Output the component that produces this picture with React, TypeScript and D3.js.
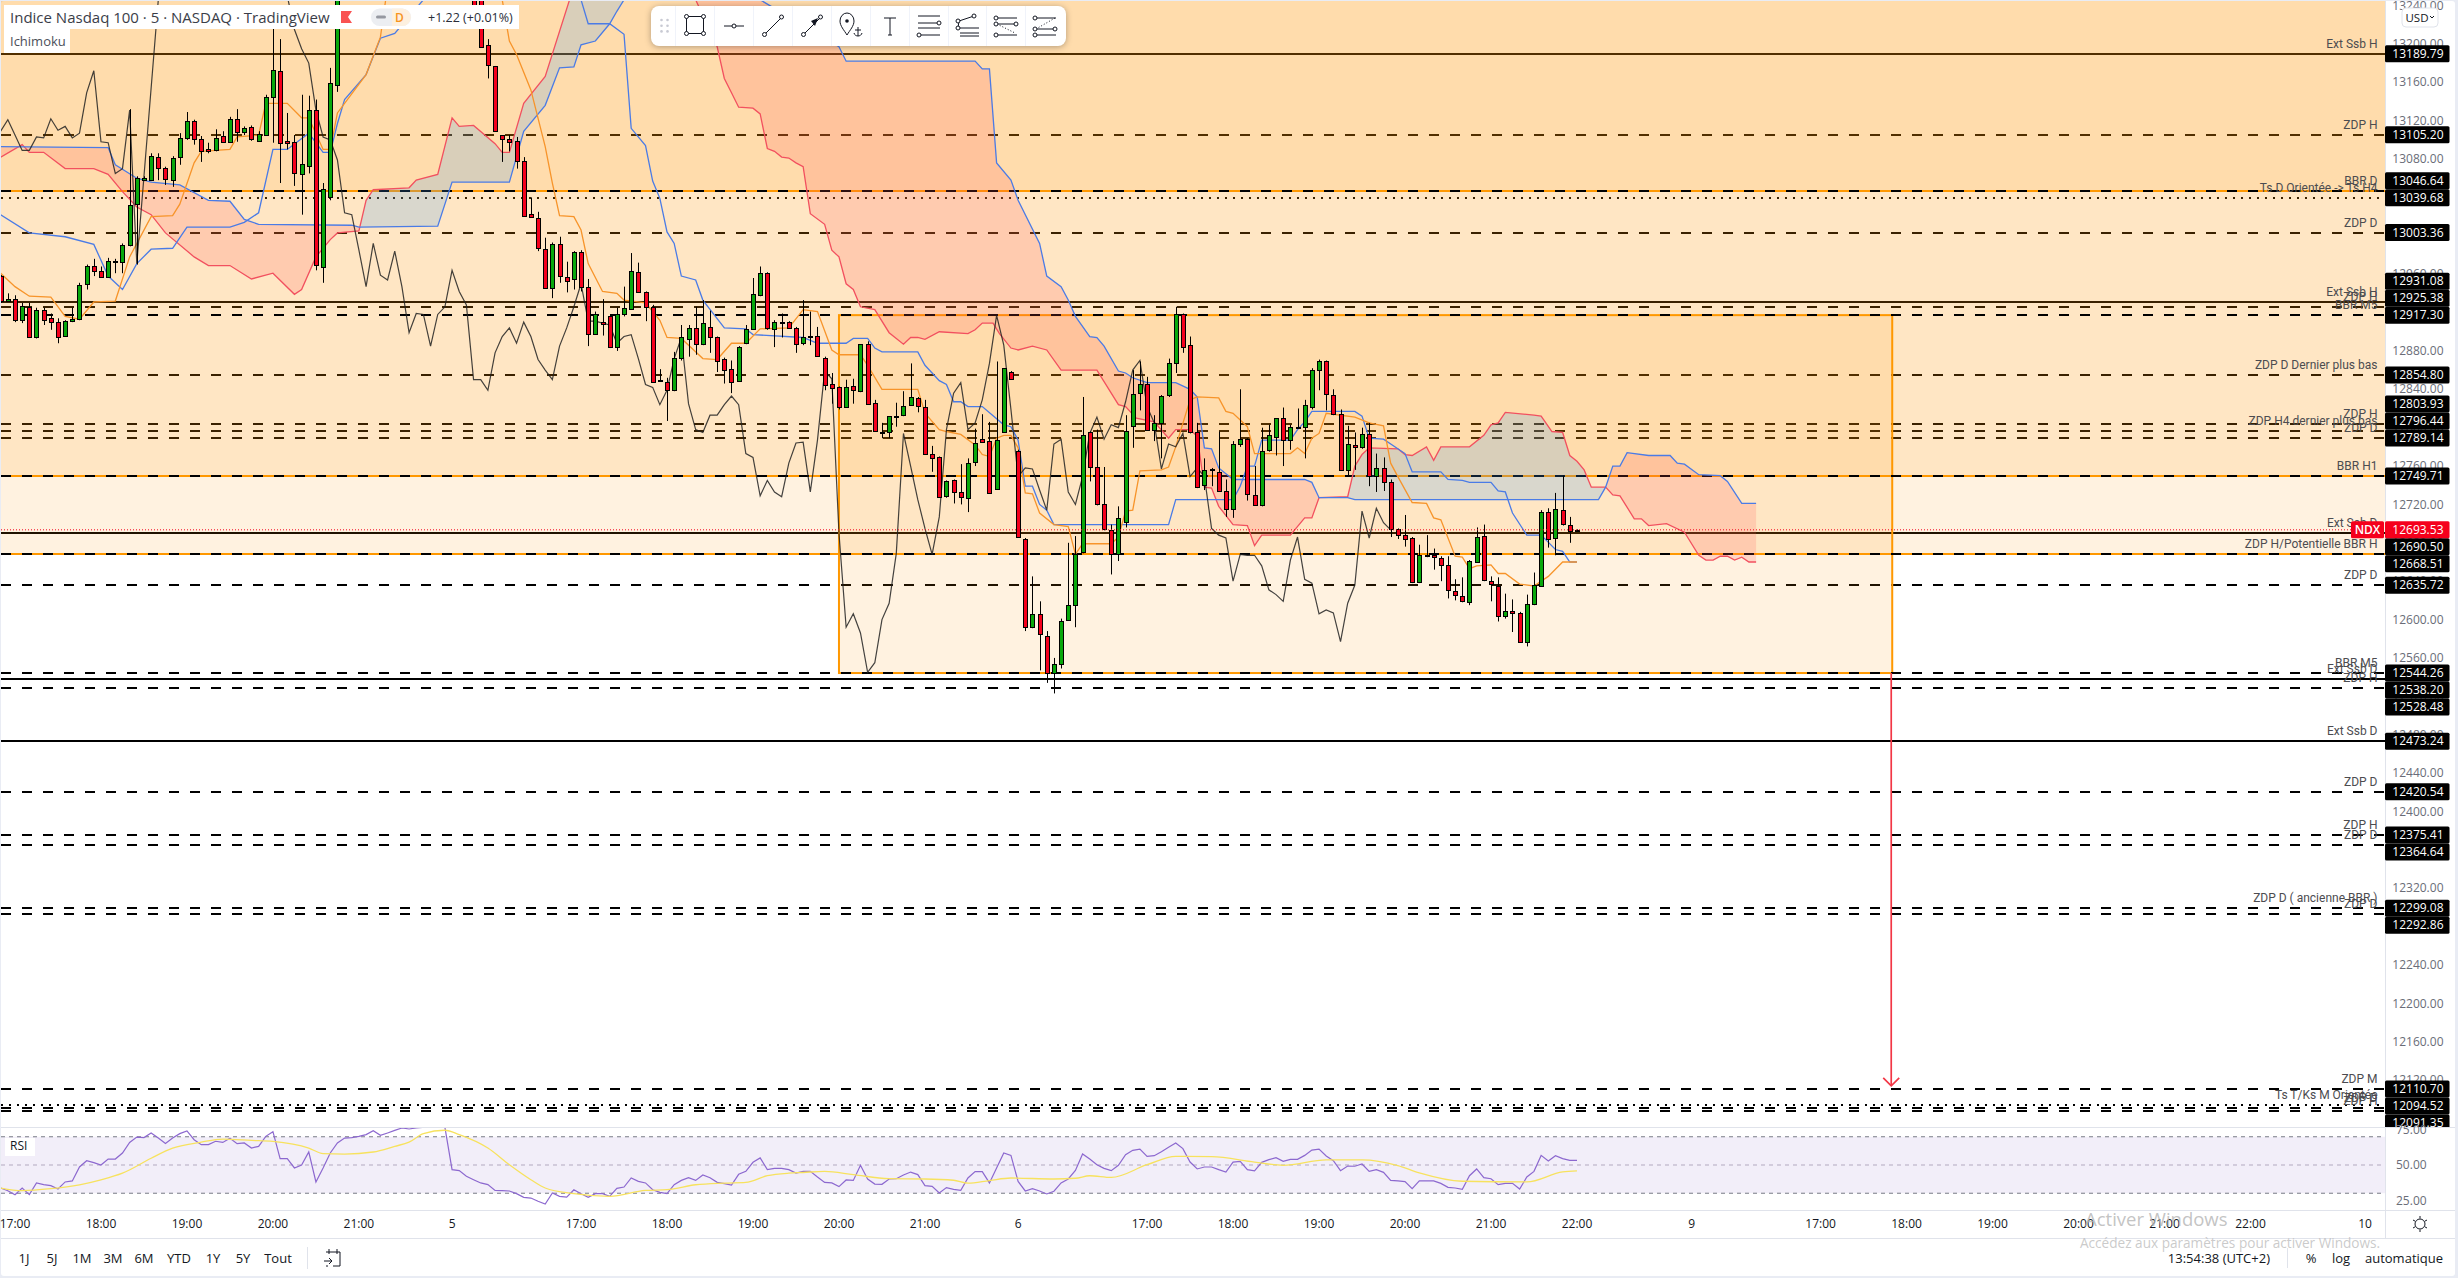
import React from 'react';
import * as d3 from 'd3';

type Bar = [number, number, number, number]; // open, high, low, close
type Vertex = [number, number]; // bar number, value

// candles, one block per trading session. bars 46-63 are above the visible range
const sessionAStart = -2;
const sessionA: Bar[] = [
  [12958,12959,12930,12932],[12932,12940,12931,12934],[12934,12938,12910,12912],[12912,12930,12909,12927],
  [12926,12930,12894,12895],[12894,12925,12893,12923],[12923,12925,12907,12912],[12914,12919,12902,12910],
  [12910,12914,12888,12895],[12896,12912,12895,12911],[12911,12925,12910,12913],[12913,12951,12912,12949],
  [12950,12970,12944,12969],[12969,12976,12958,12963],[12963,12968,12956,12957],[12957,12977,12956,12974],
  [12973,12976,12961,12974],[12973,12992,12961,12990],[12990,13132,12989,13032],[13033,13062,12970,13060],
  [13058,13062,13057,13060],[13058,13086,13057,13083],[13082,13086,13058,13071],[13071,13072,13053,13059],
  [13058,13083,13051,13081],[13082,13107,13074,13102],[13102,13129,13100,13120],[13120,13121,13095,13101],
  [13101,13104,13077,13088],[13090,13097,13086,13088],[13089,13111,13088,13102],[13104,13109,13097,13098],
  [13098,13124,13097,13122],[13122,13132,13098,13108],[13108,13114,13105,13112],[13113,13115,13099,13101],
  [13099,13109,13098,13106],[13105,13147,13104,13145],[13145,13216,13097,13173],[13172,13205,13055,13097],
  [13099,13128,13090,13097],[13098,13105,13052,13065],[13064,13147,13022,13075],[13073,13146,13065,13131],
  [13131,13142,12964,12970],[12967,13055,12951,13049],[13040,13175,13037,13159],[13157,13290,13150,13280],
];
const sessionBStart = 64;
const sessionB: Bar[] = [
  [13290,13300,13240,13241],[13260,13270,13197,13197],[13199,13205,13164,13178],[13177,13177,13109,13109],
  [13105,13105,13077,13101],[13101,13105,13088,13098],[13099,13103,13070,13078],[13078,13082,13021,13021],
  [13023,13040,13020,13020],[13019,13025,12984,12987],[12986,12998,12946,12946],[12946,12993,12935,12991],
  [12991,12999,12951,12958],[12957,12973,12941,12953],[12955,12984,12944,12983],[12983,12985,12942,12947],
  [12947,12955,12885,12898],[12898,12921,12897,12918],[12910,12934,12896,12908],[12916,12918,12883,12884],
  [12884,12925,12880,12918],[12918,12947,12916,12925],[12924,12982,12923,12963],[12962,12972,12941,12941],
  [12941,12942,12911,12926],[12926,12928,12848,12848],[12850,12861,12849,12850],[12848,12852,12807,12839],
  [12839,12879,12838,12873],[12873,12907,12870,12894],[12892,12907,12874,12904],[12904,12926,12876,12887],
  [12887,12933,12886,12909],[12905,12922,12878,12894],[12894,12895,12858,12870],[12872,12873,12846,12860],
  [12861,12870,12836,12848],[12849,12885,12848,12884],[12888,12907,12887,12903],[12903,12956,12902,12939],
  [12938,12968,12937,12961],[12961,12962,12902,12904],[12903,12912,12884,12910],[12910,12919,12894,12909],
  [12910,12911,12903,12904],[12904,12905,12878,12887],[12888,12933,12886,12894],[12894,12921,12886,12896],
  [12896,12905,12874,12875],[12873,12874,12839,12844],[12845,12857,12825,12841],[12842,12843,12819,12822],
  [12822,12850,12821,12842],[12843,12851,12825,12839],[12838,12887,12837,12887],[12887,12890,12824,12825],
  [12826,12829,12797,12797],[12796,12805,12789,12796],[12795,12812,12789,12812],[12811,12826,12801,12812],
  [12813,12838,12812,12823],[12824,12867,12823,12832],[12831,12832,12816,12823],[12822,12829,12773,12773],
  [12773,12781,12754,12768],[12769,12770,12728,12728],[12729,12745,12727,12744],[12745,12746,12721,12733],
  [12733,12762,12720,12728],[12727,12768,12712,12763],[12764,12799,12760,12784],[12788,12814,12784,12785],
  [12786,12806,12731,12732],[12736,12869,12736,12787],[12796,12862,12795,12862],[12858,12859,12850,12851],
];
const sessionCStart = 140;
const sessionC: Bar[] = [
  [12776,12777,12685,12686],[12684,12685,12588,12592],[12592,12645,12591,12606],[12606,12619,12547,12585],
  [12583,12588,12534,12544],[12544,12560,12523,12554],[12554,12601,12549,12599],[12600,12680,12600,12615],
  [12615,12687,12592,12668],[12670,12832,12669,12792],[12795,12796,12744,12759],[12759,12798,12719,12720],
  [12720,12759,12693,12694],[12693,12699,12647,12668],[12668,12718,12661,12706],[12702,12813,12696,12797],
  [12802,12860,12779,12835],[12836,12869,12818,12846],[12845,12853,12797,12798],[12798,12813,12786,12805],
  [12805,12834,12768,12833],[12834,12872,12832,12867],[12867,12926,12857,12918],[12918,12919,12878,12884],
  [12886,12895,12794,12795],[12796,12805,12737,12738],[12740,12768,12735,12756],[12756,12758,12739,12757],
  [12754,12796,12733,12734],[12734,12746,12707,12715],[12715,12786,12706,12783],[12783,12840,12780,12788],
  [12788,12789,12724,12731],[12730,12760,12719,12719],[12719,12800,12718,12776],[12777,12803,12775,12792],
  [12790,12810,12771,12810],[12810,12821,12760,12787],[12787,12803,12777,12801],[12801,12820,12799,12800],
  [12801,12829,12768,12824],[12822,12862,12819,12860],[12860,12871,12839,12869],[12869,12870,12818,12835],
  [12834,12840,12813,12814],[12814,12819,12756,12756],[12756,12802,12750,12783],[12782,12795,12756,12780],
  [12780,12800,12778,12793],[12793,12805,12739,12750],[12750,12773,12733,12758],[12758,12769,12734,12743],
  [12743,12746,12686,12694],[12694,12695,12684,12688],[12688,12709,12676,12684],[12685,12686,12638,12639],
  [12639,12678,12638,12667],[12667,12688,12665,12666],[12667,12674,12652,12665],[12664,12666,12640,12657],
  [12657,12666,12622,12631],[12630,12642,12620,12626],[12625,12644,12618,12619],[12618,12662,12615,12661],
  [12660,12696,12659,12686],[12687,12699,12640,12641],[12640,12645,12619,12637],[12635,12644,12598,12604],
  [12604,12627,12601,12609],[12609,12621,12587,12607],[12607,12608,12576,12577],[12577,12626,12572,12616],
  [12616,12649,12615,12636],[12635,12714,12634,12712],[12712,12716,12675,12684],[12685,12732,12667,12715],
  [12714,12750,12698,12700],[12699,12707,12680,12692],[12692,12694,12692,12693.53],
];

// ichimoku
const senkouA: Vertex[] = [
  [-2,13082],[1,13095],[2,13087],[4,13087],[7,13070],[11,13070],[13,13064],[15,13046],[17,13030],[19,13022],[21,13003],[25,12978],
  [27,12969],[30,12969],[33,12955],[36,12961],[39,12939],[40,12944],[42,12978],[44,12996],[45,13003],[48,13005],[49,13037],[50,13048],
  [55,13050],[56,13058],[59,13064],[61,13123],[62,13114],[64,13115],[67,13096],[68,13087],[69,13087],[71,13138],[74,13166],[77.4,13246],
  [78,13260],[90,13320],[95,13246],[98,13197],[99,13164],[100,13149],[101,13134],[103,13133],[104,13127],[105,13091],[106,13088],
  [107,13082],[108,13081],[109,13076],[110,13072],[111,13023],[113,13012],[114,12985],[115,12978],[116,12950],[117,12944],[118,12926],
  [120,12923],[122,12899],[124,12887],[125,12894],[126,12894],[127,12892],[129,12900],[133,12898],[134,12902],[135,12909],[136.5,12909],
  [137.4,12898],[139,12883],[140,12881],[142,12885],[144,12881],[146,12860],[151,12860],[154,12824],[155,12822],[156.5,12810],[159,12806],
  [161,12789],[162,12798],[164,12798],[165,12791],[166,12738],[167,12737],[168,12718],[170,12699],[172,12698],[173,12677],[174,12688],
  [178,12688],[180,12706],[181,12706],[182,12727],[186,12728],[187,12760],[188,12772],[189,12779],[193,12778],[194,12772],[195,12771],
  [197,12780],[198,12766],[199,12780],[203,12780],[205,12792],[206,12803],[207,12805],[208,12816],[212,12813],[213,12812],[214.5,12796],
  [216,12795],[217,12771],[218,12765],[219,12756],[220,12738],[222,12738],[223,12730],[224,12729],[226,12705],[227,12705],[228,12698],
  [230.5,12700],[233,12691],[235,12667],[236,12662],[237,12662],[238,12666],[239,12666],[240,12662],[241,12665],[242,12660],[243,12660],
];
const senkouB: Vertex[] = [
  [-2,13093],[13,13092],[14,13074],[17,13060],[19,13056],[23,13053],[27,13037],[30,13036],[32,13017],[34,13012],[47,13011],[48,13009],
  [59,13010],[61,13056],[69,13056],[71,13109],[74,13136],[76,13175],[78,13176],[79,13199],[81,13203],[83,13221],[84,13234],[85,13246],
  [88,13300],[100,13330],[104,13246],[115,13197],[116,13182],[134,13182],[135,13174],[136,13174],[137,13076],[139,13058],[140,13037],
  [143,12992],[144,12958],[146,12947],[147,12933],[148,12916],[150,12895],[151,12894],[152,12885],[154,12859],[155,12857],[156,12852],
  [158,12847],[162,12847],[164,12840],[165,12832],[166,12779],[167,12778],[168,12758],[170,12746],[180,12746],[181,12743],[182,12727],
  [186,12727],[187,12725],[221,12725],[222,12738],[223,12760],[224,12760],[225,12774],[228,12771],[231,12771],[232,12763],[233,12762],
  [235,12751],[238,12750],[239,12744],[241,12721],[243,12721],
];
const kijunLeft: Vertex[] = [
  [-2,13022],[2,13003],[7,12999],[11,12991],[13,12958],[15,12944],[17,12971],[19,12986],[22,12987],[24,13009],[30,13009],[32,13014],
  [34,13024],[36,13090],[38,13090],[41,13107],[43,13087],[44,13087],[45,13117],[46,13142],[49,13168],[51,13206],[53,13211],[57,13246],[58,13260],
];
const kijunRight: Vertex[] = [
  [78,13260],[79,13246],[80,13221],[83,13221],[85,13210],[86,13112],[88,13094],[89,13057],[90,13039],[91,13004],[92,12992],[93,12958],
  [95,12954],[96,12933],[99,12904],[102,12903],[103,12897],[110,12894],[112,12888],[116,12888],[117,12893],[119,12893],[120,12883],
  [121,12879],[126,12879],[127,12865],[129,12849],[130,12845],[131,12827],[132,12827],[133,12822],[135,12822],[138,12803],[139,12801],
  [140,12787],[141,12739],[142,12739],[143,12720],[144,12714],[145,12699],[161,12699],[162,12725],[170,12725],[171,12739],[172,12760],
  [173,12760],[174,12787],[178,12787],[179,12798],[180,12806],[181,12817],[187,12817],[188,12812],[189,12789],[191,12788],[194,12773],
  [195,12754],[199,12754],[200,12746],[202,12745],[203,12743],[206,12743],[207,12734],[208,12733],[209,12711],[211,12688],[213,12688],
  [215,12673],[216,12671],[217,12660],[218,12660],
];
const tenkanLeft: Vertex[] = [
  [-2,12961],[0,12947],[2,12937],[5,12936],[7,12916],[9,12913],[11,12931],[14,12932],[16,12978],[19,13020],[22,13021],[23,13033],
  [25,13076],[26,13088],[30,13090],[31,13103],[34,13105],[35,13138],[38,13138],[40,13123],[41,13123],[43,13090],[44,13090],[45,13128],
  [49,13168],[51,13207],[52,13260],
];
const tenkanRight: Vertex[] = [
  [67.5,13260],[68,13246],[69,13203],[70,13189],[72,13152],[74,13093],[75,13055],[76,13021],[78,13020],[79,13006],[80,12971],[82,12942],
  [84,12940],[85,12933],[88,12930],[90,12912],[91,12894],[93,12893],[96,12872],[98,12871],[100,12888],[102,12888],[104,12903],[108,12904],
  [110,12923],[112,12921],[114,12881],[115,12876],[118,12876],[119,12865],[121,12840],[126,12840],[127,12815],[129,12798],[130,12796],
  [132,12793],[134,12782],[135,12772],[136,12770],[137,12789],[138,12792],[139,12792],[140,12779],[141,12732],[142,12731],[143,12711],
  [145,12699],[147,12697],[148,12668],[149,12679],[153,12679],[154,12686],[155,12713],[156,12714],[157,12755],[160,12756],[161,12759],
  [162,12780],[164,12829],[165,12832],[168,12831],[169,12817],[170,12815],[172,12801],[173,12773],[178,12773],[179,12779],[180,12773],
  [181,12789],[182,12794],[183,12815],[187,12811],[189,12805],[191,12802],[192,12763],[193,12749],[195,12722],[197,12721],[198,12706],
  [199,12704],[201,12666],[202,12665],[203,12653],[204,12656],[206,12657],[207,12648],[208,12648],[210,12637],[212,12635],[214,12645],
  [216,12660],[218,12660],
];
const chikouLeftStart = -2;
const chikouLeft = [
  13109,13121,13105,13089,13089,13103,13102,13122,13110,13114,13102,13107,13149,13172,13098,13097,13065,13070,13131,12971,13062,13154,13246,13338,
];
const chikouRightStart = 38;
const chikouRight = [
  13250,13215,13195,13180,13131,13103,13100,13079,13024,13022,12985,12947,12992,12959,12954,12984,12947,12899,12919,12918,12885,12918,12926,
  12964,12942,12928,12850,12850,12839,12878,12895,12904,12888,12910,12895,12871,12860,12850,12885,12904,12926,12950,12911,12911,12909,12907,
  12888,12895,12897,12872,12845,12842,12824,12839,12872,12894,12825,12798,12795,12813,12813,12824,12833,12824,12773,12769,12729,12745,12733,
  12728,12763,12784,12785,12733,12787,12859,12851,12690,12592,12606,12586,12545,12555,12600,12617,12669,12794,12760,12725,12695,12668,12707,
  12798,12836,12847,12798,12805,12829,12867,12917,12886,12819,12749,12758,12757,12735,12714,12783,12788,12733,12720,12749,12794,12811,12788,
  12803,12800,12827,12860,12870,12822,12805,12757,12783,12780,12794,12749,12758,12749,12695,12688,12685,12640,12668,12667,12667,12656,12631,
  12626,12619,12662,12686,12642,12638,12606,12610,12607,12577,12617,12636,12713,12685,12716,12701,12693.5,
];

// rsi
const rsiStart = -2;
const rsiValues = [
  33.7,31.8,29,33.7,29,37.3,36.1,35.4,33,38,38.7,48.6,53,51.7,50,54.2,54.2,58.5,66,69.8,69.4,72.7,69.1,65.3,69.1,72.2,74.1,67.9,64.4,64.4,
  66.8,66,68.9,65.1,65.6,62,63.2,70.3,73.6,54.5,54.5,47.9,50,59.2,38,47.9,58.5,65.6,69.1,69.4,70.3,71.5,74.3,71,72.7,74.5,76.2,75.5,76.2,76.7,
  78.6,79.7,76.7,46.7,46,42,39.6,37.3,36.1,32,31.8,31.6,29.7,27.1,26.6,24.3,22.4,30.2,27.8,27.3,32.5,29.7,27.1,29.7,29.7,27.8,33.5,34.4,40.8,
  38.4,37.3,32.5,30.6,29.7,36.1,39.1,41,39.1,42.9,41,37.7,36.8,35.8,43.4,45.5,51.9,55,46.7,47.6,47.6,46.7,44.3,45.5,45.5,41.5,37.7,37.3,34.7,
  39.4,39.1,49.8,40.1,36.5,36.3,40.1,40.3,42.9,45,43.2,35.4,34.9,30.2,34,32.8,32.1,40.8,45.3,45.3,37.3,47.9,58.5,56.8,38.4,31.6,33.2,31.6,
  29.5,31.4,37.3,40.1,46.2,57.8,54.2,50.2,47.6,46,49.8,57.3,60.4,61.3,56.1,56.6,59.4,62.5,65.6,61.6,52.1,47.2,48.6,48.6,46.7,45,52.1,52.6,
  46.7,45.8,51.9,53.8,55.2,52.6,54,54,56.8,60.6,61.3,56.4,53.1,46,49.3,49.1,50.7,45.5,46.7,44.8,39.1,38.7,38.2,33.2,38.7,38.7,38.7,37,34.2,
  33.7,32.8,42.4,47.2,41,40.3,36.1,37,37,33,41.5,45.5,56.8,52.8,56.6,54.5,53.3,53.3,
];
const rsiMa: Vertex[] = [
  [-2,33.7],[1,31.8],[5,33.2],[9,36],[12,39.5],[15,44.2],[19,54.8],[22,61.9],[26,66.2],[29,68.3],[33,67.4],[36,66.7],[41,62],[43,58],[46,57.7],
  [50,59.2],[53,63.2],[55,66.2],[57,72.2],[60,74.6],[62,71.5],[66,62],[69,50.2],[72,39.6],[74,33.7],[78,29.7],[83,27.8],[88,32],[91,32.5],[95,36],
  [99,37.2],[102,37.7],[105,42.4],[108,44.2],[110,44.7],[113,45.5],[117,43.2],[122,40.3],[127,40.1],[131,39.2],[133,37.1],[136,39],[139,40.8],
  [145,40.1],[148,40.6],[150,42.4],[153,41.2],[158,50.2],[162,56.1],[167,55.9],[173,52.1],[177,49.8],[183,53.6],[188,53.6],[193,49.6],[196,44.4],
  [202,38.5],[211,38],[216,45.1],[218,45.8],
];
const rsiTicks = [75, 50, 25];
const rsiBands = [70, 50, 30];

// horizontal levels
const levelPrices = [
  13189.79,13105.2,13046.64,13039.68,13003.36,12931.08,12925.38,12917.3,12854.8,12803.93,12796.44,12789.14,12749.71,
  12690.5,12668.51,12635.72,12544.26,12538.2,12528.48,12473.24,12420.54,12375.41,12364.64,12299.08,12292.86,12110.7,12094.52,12091.35,12088.2,
];
const levelLabels = [
  'Ext Ssb H','ZDP H','BBR D','Ts D Orientée ->  Ts H4','ZDP D','Ext Ssb H','ZDP H','BBR M5','ZDP D Dernier plus bas','ZDP H','ZDP H4 dernier plus bas','ZDP D','BBR H1',
  'Ext Ssb D','ZDP H/Potentielle BBR H','ZDP D','BBR M5','Ext Ssb D','ZDP H','Ext Ssb D','ZDP D','ZDP H','ZDP D','ZDP D ( ancienne BBR )','ZDP D','ZDP M','Ts T/Ks M Orientée','ZDP D','ZDP H',
];
const solidLevels = [13189.79, 12931.08, 12690.5, 12538.2, 12473.24];
const dottedLevels = [13039.68, 12094.52];
const lastPrice = 12693.53;

const zoneBottoms = [13046.64, 12749.71, 12668.51];
const boxBars = [115, 262];
const boxPrices = [12917.3, 12544.26];
const arrowBar = 262;
const arrowPrices = [12544.26, 12114];

const priceTicks = d3.range(12120, 13241, 40);
const timeTickBars = [0,12,24,36,48,61,79,91,103,115,127,140,158,170,182,194,206,218,234,252,264,276,288,300,312,328];
const timeTickLabels = ['17:00','18:00','19:00','20:00','21:00','5','17:00','18:00','19:00','20:00','21:00','6','17:00','18:00','19:00','20:00','21:00','22:00','9','17:00','18:00','19:00','20:00','21:00','22:00','10'];
const rangeLabels = ['1J','5J','1M','3M','6M','YTD','1Y','5Y','Tout'];
const rangeCenters = [24,52,82,113,144,179,213,243,278];

const W = 2458;
const H = 1278;
const PLOT_R = 2385;
const MAIN_B = 1127;
const RSI_B = 1210;
const AXIS_B = 1238;
const FONT = '"Open Sans", sans-serif';
const UP = '#08a80c';
const DOWN = '#f5001c';
const INK = '#131722';
const BORDER = '#e0e3eb';
const dashed = '10 11';
const dotted = '2 6';

const x = d3.scaleLinear().domain([0, 328]).range([15, 15 + 328 * 7.165]);
const y = d3.scaleLinear().domain([13189.79, 12110.7]).range([53.7, 1089]);
const yRsi = d3.scaleLinear().domain([50, 25]).range([1165, 1200.3]);

const vertexLine = d3.line<Vertex>().x(d => x(d[0])).y(d => y(d[1]));
const seqLine = (values: number[], start: number, scale: d3.ScaleLinear<number, number>) =>
  d3.line<number>().x((_, i) => x(start + i)).y(d => scale(d))(values) ?? '';

// sampled cloud edges, the two spans cross so each colour gets its own area
const lerp = (pts: Vertex[]) => d3.scaleLinear().domain(pts.map(p => p[0])).range(pts.map(p => p[1]));
const lerpA = lerp(senkouA);
const lerpB = lerp(senkouB);
const cloudBars = d3.range(-2, 243.01, 0.125);
const cloudArea = (aboveA: boolean) =>
  d3.area<number>()
    .defined(b => (lerpA(b) >= lerpB(b)) === aboveA)
    .x(b => x(b))
    .y0(b => y(lerpA(b)))
    .y1(b => y(lerpB(b)))(cloudBars) ?? '';

// price tags do not overlap: above the last price they stack up, below it they stack down
const tagH = 17;
const tagYs = (() => {
  const res = new Map<number, number>();
  const above = levelPrices.filter(p => p > lastPrice).sort(d3.ascending);
  const below = levelPrices.filter(p => p < lastPrice).sort(d3.descending);
  let prev = y(lastPrice);
  above.forEach(p => { prev = Math.min(y(p), prev - tagH); res.set(p, prev); });
  prev = y(lastPrice);
  below.forEach(p => { prev = Math.max(y(p), prev + tagH); res.set(p, prev); });
  return res;
})();

const Candles: React.FC<{ bars: Bar[]; start: number }> = ({ bars, start }) => (
  <g>
    {bars.map((b, i) => {
      const [o, h, l, c] = b;
      const cx = Math.round(x(start + i)) + 0.5;
      const top = Math.round(y(Math.max(o, c))) + 0.5;
      const bot = Math.round(y(Math.min(o, c))) + 0.5;
      return (
        <g key={i}>
          <line x1={cx} x2={cx} y1={y(h)} y2={y(l)} stroke="#000" strokeWidth={1} />
          <rect x={cx - 2} width={4} y={top} height={Math.max(bot - top, 1)} fill={c >= o ? UP : DOWN} stroke="#000" strokeWidth={1} />
        </g>
      );
    })}
  </g>
);

const LevelLine: React.FC<{ p: number }> = ({ p }) => (
  <line
    x1={1}
    x2={PLOT_R}
    y1={Math.round(y(p))}
    y2={Math.round(y(p))}
    stroke="#000"
    strokeWidth={2}
    strokeDasharray={solidLevels.includes(p) ? undefined : dottedLevels.includes(p) ? dotted : dashed}
  />
);

const ToolIcons: React.FC = () => {
  const dot = (cx: number, cy: number, k: string) => <circle key={k} cx={cx} cy={cy} r={2} fill="#fff" stroke={INK} strokeWidth={1} />;
  const stroke = { stroke: INK, strokeWidth: 1, fill: 'none' };
  const centers = [695, 734, 773, 812, 851, 890, 929, 968, 1006, 1045];
  return (
    <g>
      <rect x={651} y={6} width={415} height={40} rx={8} fill="#fff" style={{ filter: 'drop-shadow(0 1px 3px rgba(0,0,0,0.3))' }} />
      {[0, 1].flatMap(a => [0, 1, 2].map(b => <circle key={`${a}${b}`} cx={661.5 + a * 6} cy={20 + b * 5.7} r={1.3} fill="#c8cad3" />))}
      {centers.map((c, i) => <line key={i} x1={c - 19.5} x2={c - 19.5} y1={6} y2={46} stroke="#f0f3fa" />)}
      <g transform="translate(695,25)">
        <rect x={-8.5} y={-8.5} width={17} height={17} {...stroke} />
        {dot(-8.5, -8.5, 'a')}{dot(8.5, -8.5, 'b')}{dot(-8.5, 8.5, 'c')}{dot(8.5, 8.5, 'd')}
      </g>
      <g transform="translate(734,26)">
        <line x1={-10} x2={10} y1={0} y2={0} {...stroke} />{dot(0, 0, 'a')}
      </g>
      <g transform="translate(773,26)">
        <line x1={-8.5} x2={8.5} y1={8.5} y2={-8.5} {...stroke} />{dot(-8.5, 8.5, 'a')}{dot(8.5, -9, 'b')}
      </g>
      <g transform="translate(812,26)">
        <line x1={-8.5} x2={8.5} y1={8.5} y2={-8.5} {...stroke} />
        <path d="M6 -8 L-1 -5 L3 0 Z" fill={INK} />
        {dot(-8.5, 8.5, 'a')}{dot(8.5, -9, 'b')}
      </g>
      <g transform="translate(847,25)">
        <path d="M0 10 C-3 5 -7 1 -7 -4 A7 8 0 0 1 7 -4 C7 1 3 5 0 10 Z" {...stroke} />
        <circle cx={0} cy={-4} r={1.8} fill={INK} />
        <path d="M11 2 V11 M8 5 H14 M7 8 C8 12 14 12 15 8" {...stroke} />
      </g>
      <g transform="translate(890,26)">
        <path d="M-6 -8 H6 M0 -8 V9 M-2 9 H2" {...stroke} />
      </g>
      <g transform="translate(929,26)">
        <path d="M-11 -10 H11 M-11 -3 H10 M-11 2 H11 M-8 9 H11" {...stroke} />
        {dot(10, -3, 'a')}{dot(-10, 9, 'b')}
      </g>
      <g transform="translate(968,26)">
        <path d="M-10 2 L-9 -5 L6 -10 M-10 2 H11 M-8 7 H11 M-8 10 H11" {...stroke} />
        {dot(-10, -5, 'a')}{dot(6, -10, 'b')}{dot(-10, 2, 'c')}
      </g>
      <g transform="translate(1006,26)">
        <path d="M-9 -8 H11 M-9 -2 H11 M-9 9 H11" {...stroke} />
        <path d="M-9 -2 L9 7" {...stroke} strokeDasharray="1 2" />
        {dot(-10, -8, 'a')}{dot(-10, -2, 'b')}{dot(10, -2, 'c')}{dot(-10, 9, 'd')}
      </g>
      <g transform="translate(1045,26)">
        <path d="M-9 -8 H11 M-9 3 H11 M-9 9 H11" {...stroke} />
        <path d="M-9 3 L10 -8" {...stroke} strokeDasharray="1 2" />
        {dot(-10, -8, 'a')}{dot(-10, 3, 'b')}{dot(10, 3, 'c')}{dot(-10, 9, 'd')}
      </g>
    </g>
  );
};

const App: React.FC = () => {
  const boundary = [...zoneBottoms, ...boxPrices];
  return (
    <svg width={W} height={H} viewBox={`0 0 ${W} ${H}`} style={{ position: 'absolute', left: 0, top: 0, display: 'block', fontFamily: FONT }}>
      <defs>
        <clipPath id="main"><rect x={1} y={1} width={PLOT_R - 1} height={MAIN_B - 1} /></clipPath>
        <clipPath id="tags"><rect x={1} y={1} width={W - 8} height={MAIN_B - 1} /></clipPath>
        <clipPath id="rsi"><rect x={1} y={MAIN_B + 1} width={PLOT_R - 1} height={RSI_B - MAIN_B - 1} /></clipPath>
      </defs>
      <rect width={W} height={H} fill="#e9ecf4" />
      <rect x={1} y={1} width={W - 4} height={H - 3} rx={3} fill="#fff" />

      <g clipPath="url(#main)">
        {/* the black levels sit under the zones, which is why they look brown up there */}
        {levelPrices.filter(p => !boundary.includes(p)).map(p => <LevelLine key={p} p={p} />)}
        {zoneBottoms.map(p => <rect key={p} x={1} y={0} width={PLOT_R} height={y(p)} fill="#ff9800" fillOpacity={0.12} />)}
        <rect x={x(boxBars[0])} width={x(boxBars[1]) - x(boxBars[0])} y={y(boxPrices[0])} height={y(boxPrices[1]) - y(boxPrices[0])} fill="#ff9800" fillOpacity={0.12} />
        {zoneBottoms.map(p => <line key={p} x1={1} x2={PLOT_R} y1={Math.round(y(p))} y2={Math.round(y(p))} stroke="#ff9800" strokeWidth={2} />)}
        <rect x={x(boxBars[0])} width={x(boxBars[1]) - x(boxBars[0])} y={y(boxPrices[0])} height={y(boxPrices[1]) - y(boxPrices[0])} fill="none" stroke="#ff9800" strokeWidth={2} />
        {boundary.map(p => <LevelLine key={p} p={p} />)}

        <path d={cloudArea(false)} fill="#ff5252" fillOpacity={0.18} />
        <path d={cloudArea(true)} fill="#4299f5" fillOpacity={0.2} />
        <path d={vertexLine(senkouA) ?? ''} fill="none" stroke="#f2505f" strokeWidth={1.3} />
        <path d={vertexLine(senkouB) ?? ''} fill="none" stroke="#4a7be6" strokeWidth={1.3} />
        <path d={vertexLine(kijunLeft) ?? ''} fill="none" stroke="#4a7be6" strokeWidth={1.3} />
        <path d={vertexLine(kijunRight) ?? ''} fill="none" stroke="#4a7be6" strokeWidth={1.3} />
        <path d={vertexLine(tenkanLeft) ?? ''} fill="none" stroke="#f7942a" strokeWidth={1.3} />
        <path d={vertexLine(tenkanRight) ?? ''} fill="none" stroke="#f7942a" strokeWidth={1.3} />
        <path d={seqLine(chikouLeft, chikouLeftStart, y)} fill="none" stroke="#222" strokeOpacity={0.85} strokeWidth={1.2} />
        <path d={seqLine(chikouRight, chikouRightStart, y)} fill="none" stroke="#222" strokeOpacity={0.85} strokeWidth={1.2} />

        <Candles bars={sessionA} start={sessionAStart} />
        <Candles bars={sessionB} start={sessionBStart} />
        <Candles bars={sessionC} start={sessionCStart} />

        <line x1={1} x2={PLOT_R} y1={y(lastPrice)} y2={y(lastPrice)} stroke="#f5001c" strokeWidth={1} strokeDasharray="1 2" />

        <line x1={x(arrowBar) - 1} x2={x(arrowBar) - 1} y1={y(arrowPrices[0])} y2={y(arrowPrices[1])} stroke="#f23645" strokeWidth={1.7} />
        <path d={`M${x(arrowBar) - 9} ${y(arrowPrices[1]) - 8} L${x(arrowBar) - 1} ${y(arrowPrices[1])} L${x(arrowBar) + 7} ${y(arrowPrices[1]) - 8}`} fill="none" stroke="#f23645" strokeWidth={1.7} />

        {levelPrices.map((p, i) => (
          <text key={p} x={2377.5} y={y(p) - 6} textAnchor="end" fontFamily="Roboto, sans-serif" fontSize={12} fill="#4c4c50">{levelLabels[i]}</text>
        ))}
      </g>

      <line x1={PLOT_R + 0.5} x2={PLOT_R + 0.5} y1={1} y2={AXIS_B} stroke={BORDER} />
      {priceTicks.map(t => (
        <text key={t} x={2443.5} y={y(t)} dy="0.35em" textAnchor="end" fontSize={12} fill="#6a6d78">{t.toFixed(2)}</text>
      ))}

      <g clipPath="url(#tags)">
        {levelPrices.map(p => {
          const ty = tagYs.get(p) ?? y(p);
          return (
            <g key={p}>
              <rect x={PLOT_R} y={ty - tagH / 2} width={64.5} height={tagH} rx={1.5} fill="#000" />
              <text x={2443.5} y={ty} dy="0.35em" textAnchor="end" fontSize={12} fill="#fff">{p.toFixed(2)}</text>
            </g>
          );
        })}
        <rect x={2351} y={y(lastPrice) - tagH / 2} width={33} height={tagH} rx={1.5} fill="#f5001c" />
        <text x={2367.5} y={y(lastPrice)} dy="0.35em" textAnchor="middle" fontSize={12} fontWeight={600} fill="#fff">NDX</text>
        <rect x={PLOT_R} y={y(lastPrice) - tagH / 2} width={64.5} height={tagH} rx={1.5} fill="#f5001c" />
        <text x={2443.5} y={y(lastPrice)} dy="0.35em" textAnchor="end" fontSize={12} fill="#fff">{lastPrice.toFixed(2)}</text>
      </g>

      <rect x={2402} y={8} width={36} height={19} rx={4} fill="#fff" stroke={BORDER} />
      <text x={2417} y={17.5} dy="0.35em" textAnchor="middle" fontSize={11.5} fill={INK}>USD</text>
      <path d="M2430 16 l2 2 l2 -2" fill="none" stroke={INK} />

      <line x1={1} x2={W - 3} y1={MAIN_B + 0.5} y2={MAIN_B + 0.5} stroke={BORDER} />
      <g clipPath="url(#rsi)">
        <rect x={1} width={PLOT_R} y={yRsi(rsiBands[0])} height={yRsi(rsiBands[2]) - yRsi(rsiBands[0])} fill="#7e57c2" fillOpacity={0.1} />
        {rsiBands.map((b, i) => (
          <line key={b} x1={1} x2={PLOT_R} y1={yRsi(b)} y2={yRsi(b)} stroke={i === 1 ? '#b2a9bf' : '#787b86'} strokeDasharray="4 4" />
        ))}
        <path d={seqLine(rsiValues, rsiStart, yRsi)} fill="none" stroke="#8c68cf" strokeWidth={1.2} />
        <path d={d3.line<Vertex>().x(d => x(d[0])).y(d => yRsi(d[1])).curve(d3.curveMonotoneX)(rsiMa) ?? ''} fill="none" stroke="#f7e25e" strokeWidth={1.3} />
      </g>
      <rect x={5} y={1138} width={30} height={18} fill="#fff" />
      <text x={10} y={1146} dy="0.35em" fontSize={12} fill={INK}>RSI</text>
      {rsiTicks.map(t => (
        <text key={t} x={2396} y={yRsi(t)} dy="0.35em" fontSize={12} fill="#6a6d78">{t.toFixed(2)}</text>
      ))}

      <line x1={1} x2={W - 3} y1={RSI_B + 0.5} y2={RSI_B + 0.5} stroke={BORDER} />
      <line x1={1} x2={W - 3} y1={AXIS_B + 0.5} y2={AXIS_B + 0.5} stroke={BORDER} />
      {timeTickBars.map((b, i) => (
        <text key={i} x={x(b)} y={1224} dy="0.35em" textAnchor="middle" fontSize={12} fill={INK}>{timeTickLabels[i]}</text>
      ))}
      <g transform="translate(2420,1224)" fill="none" stroke={INK}>
        <circle r={5} />
        <path d="M0 -8 V-5.5 M0 8 V5.5 M-7 -4 L-4.8 -2.8 M7 -4 L4.8 -2.8 M-7 4 L-4.8 2.8 M7 4 L4.8 2.8" />
      </g>

      {rangeLabels.map((t, i) => (
        <text key={t} x={rangeCenters[i]} y={1258} dy="0.35em" textAnchor="middle" fontSize={13} fill={INK}>{t}</text>
      ))}
      <line x1={307.5} x2={307.5} y1={1247} y2={1269} stroke={BORDER} />
      <g transform="translate(333,1258)" fill="none" stroke={INK}>
        <path d="M-7 -6 H7 V8 H0 M-4 -9 V-4 M4 -9 V-4 M-9 3 H-1 M-4 0 L-1 3 L-4 6 M-7 8 H-5" />
      </g>

      <text x={2085} y={1220} dy="0.35em" fontSize={18.5} fill="#b4b4b4" fillOpacity={0.8}>Activer Windows</text>
      <text x={2080} y={1243} dy="0.35em" fontSize={13.6} fill="#bdbdbd" fillOpacity={0.8}>Accédez aux paramètres pour activer Windows.</text>

      <text x={2270} y={1258} dy="0.35em" textAnchor="end" fontSize={13} fill={INK}>13:54:38 (UTC+2)</text>
      <line x1={2287.5} x2={2287.5} y1={1248} y2={1268} stroke={BORDER} />
      <text x={2311} y={1258} dy="0.35em" textAnchor="middle" fontSize={13} fill={INK}>%</text>
      <text x={2341} y={1258} dy="0.35em" textAnchor="middle" fontSize={13} fill={INK}>log</text>
      <text x={2404} y={1258} dy="0.35em" textAnchor="middle" fontSize={13} fill={INK}>automatique</text>

      <rect x={4} y={5} width={515} height={24} fill="#fff" />
      <rect x={4} y={29} width={66} height={24} fill="#fff" />
      <text x={10} y={17.5} dy="0.35em" fontSize={15} fill="#3a3d48">Indice Nasdaq 100 · 5 · NASDAQ · TradingView</text>
      <path d="M341 11 H352 L348 17 L352 23 H341 Z" fill="#f95252" />
      <rect x={371} y={8.5} width={40} height={17.5} rx={8.7} fill="#eceef2" />
      <path d="M392 8.5 H402 A8.7 8.7 0 0 1 402 26 H392 Z" fill="#fdf0df" />
      <rect x={376} y={15.5} width={10} height={3} rx={1.5} fill="#9598a1" />
      <text x={399.5} y={17.5} dy="0.35em" textAnchor="middle" fontSize={12} fontWeight={600} fill="#f7931e">D</text>
      <text x={428} y={18} dy="0.35em" fontSize={12.5} fill="#2a2e39">+1.22 (+0.01%)</text>
      <text x={10} y={41.5} dy="0.35em" fontSize={13} fill="#4c4f5a">Ichimoku</text>

      <ToolIcons />
    </svg>
  );
};

export default App;
